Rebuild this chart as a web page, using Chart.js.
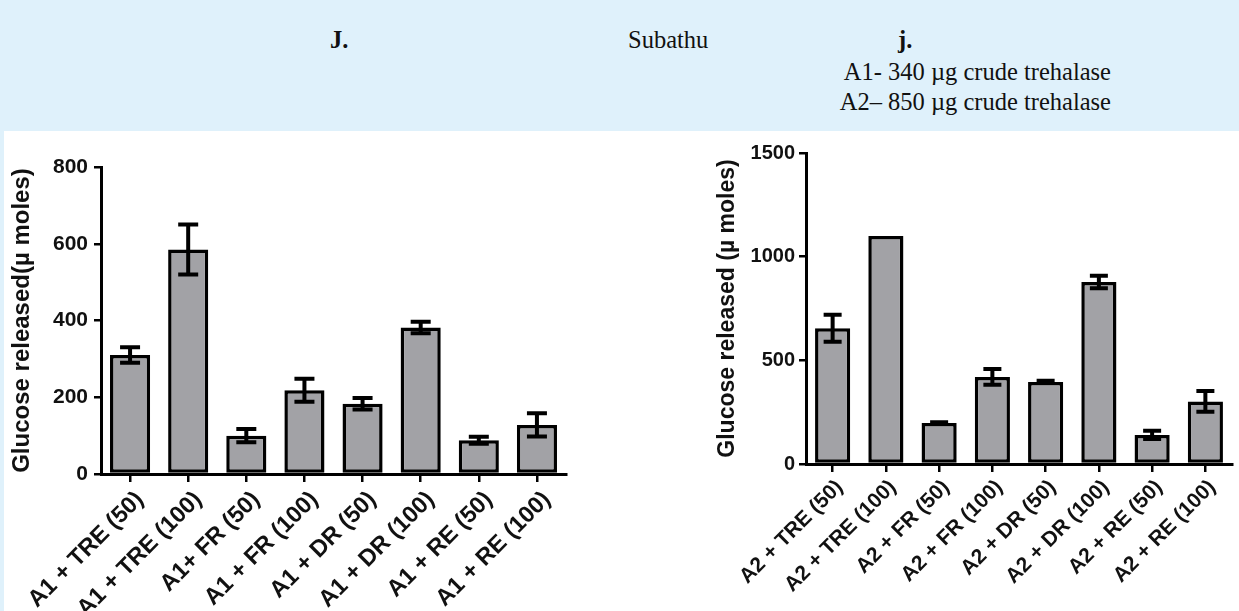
<!DOCTYPE html>
<html><head><meta charset="utf-8">
<script src="https://cdn.jsdelivr.net/npm/chart.js@4.4.1/dist/chart.umd.min.js"></script>
<style>
html,body{margin:0;padding:0;background:#fff;}
body{width:1239px;height:611px;position:relative;overflow:hidden;}
#hdr{position:absolute;left:0;top:0;width:1239px;height:131px;background:#dff1fb;}
#strip{position:absolute;left:0;top:131px;width:4px;height:480px;background:#dff1fb;}
.t{position:absolute;font-family:"Liberation Serif",serif;font-size:24.5px;color:#111;white-space:nowrap;line-height:1;}
.c{position:absolute;}
</style></head><body>
<div id="hdr">
 <div class="t" style="left:330px;top:28px;font-weight:bold">J.</div>
 <div class="t" style="left:628px;top:28px;">Subathu</div>
 <div class="t" style="left:898px;top:28px;font-weight:bold">j.</div>
 <div class="t" style="right:128px;top:60px;">A1- 340 µg crude trehalase</div>
 <div class="t" style="right:128px;top:90px;">A2– 850 µg crude trehalase</div>
</div>
<div id="strip"></div>
<div class="c" style="left:0;top:131px;"><canvas id="c1" width="620" height="480"></canvas></div>
<div class="c" style="left:620px;top:131px;"><canvas id="c2" width="619" height="480"></canvas></div>
<script>
const labelsA1 = ["A1 + TRE (50)","A1 + TRE (100)","A1+ FR (50)","A1 + FR (100)","A1 + DR (50)","A1 + DR (100)","A1 + RE (50)","A1 + RE (100)"];
const valuesA1 = [310,585,100,218,183,382,88,128];
const errorsA1 = [20,65,17,30,15,15,9,30];
const ticksA1 = [0,200,400,600,800];

const labelsA2 = ["A2 + TRE (50)","A2 + TRE (100)","A2 + FR (50)","A2 + FR (100)","A2 + DR (50)","A2 + DR (100)","A2 + RE (50)","A2 + RE (100)"];
const valuesA2 = [655,1100,198,420,396,878,140,302];
const errorsA2 = [65,0,3,38,5,30,20,50];
const ticksA2 = [0,500,1000,1500];

const errPlugin = {
  id:'err',
  afterDatasetsDraw(chart, args, opts){
    const ctx=chart.ctx, xs=chart.scales.x, ys=chart.scales.y;
    const ds=chart.data.datasets[0];
    ctx.save(); ctx.strokeStyle='#000'; ctx.lineWidth=opts.width; ctx.lineCap='butt';
    ds.data.forEach((v,i)=>{
      const e=opts.errors[i]; if(!e) return;
      const x=xs.getPixelForValue(i);
      const y1=ys.getPixelForValue(v+e), y2=ys.getPixelForValue(v-e);
      ctx.beginPath();
      ctx.moveTo(x,y1); ctx.lineTo(x,y2);
      ctx.moveTo(x-opts.cap,y1); ctx.lineTo(x+opts.cap,y1);
      ctx.moveTo(x-opts.cap,y2); ctx.lineTo(x+opts.cap,y2);
      ctx.stroke();
    });
    ctx.restore();
  }
};

const FONT = "'Liberation Sans', Arial, sans-serif";
function makeChart(id, labels, values, errors, ticks, max, cfg){
  const axisGrid = (len)=>({display:true, offset:false, drawOnChartArea:false, drawTicks:true, tickLength:len, color:'#000', lineWidth:2.5});
  return new Chart(document.getElementById(id), {
    type:'bar',
    data:{labels:labels, datasets:[{data:values, backgroundColor:'#a2a2a6', borderColor:'#000', borderWidth:3.5, borderSkipped:false, barPercentage:cfg.bar, categoryPercentage:1}]},
    options:{
      responsive:false, animation:false, devicePixelRatio:1,
      layout:{padding:{left:0, top:cfg.top, right:cfg.right, bottom:0}},
      plugins:{legend:{display:false}, tooltip:{enabled:false}, err:{errors:errors, cap:cfg.cap, width:4}},
      scales:{
        x:{
          offset:true,
          grid:axisGrid(8),
          border:{display:true, color:'#000', width:3},
          ticks:{autoSkip:false, minRotation:45, maxRotation:45, padding:cfg.xp, labelOffset:cfg.lo, color:'#111', font:{family:FONT, weight:'bold', size:cfg.xf}},
          afterFit:s=>{s.height=cfg.xh;}
        },
        y:{
          min:0, max:max,
          afterBuildTicks:s=>{s.ticks=ticks.map(v=>({value:v}));},
          grid:axisGrid(7),
          border:{display:true, color:'#000', width:3},
          ticks:{padding:cfg.tp, color:'#111', font:{family:FONT, weight:'bold', size:cfg.yf}, callback:v=>String(v)},
          title:{display:true, text:cfg.title, color:'#111', font:{family:FONT, weight:'bold', size:cfg.tf}, padding:{top:cfg.tpad, bottom:0}},
          afterFit:s=>{s.width=cfg.yw;}
        }
      }
    },
    plugins:[errPlugin]
  });
}

makeChart('c1', labelsA1, valuesA1, errorsA1, ticksA1, 800,
  {bar:0.69, top:36, right:54, xh:137, yw:101, tp:6, tpad:8, cap:10, xf:23.5, xp:4, lo:10, yf:21, tf:24, title:'Glucose released(µ moles)'});
makeChart('c2', labelsA2, valuesA2, errorsA2, ticksA2, 1500,
  {bar:0.66, top:22, right:7, xh:147, yw:186, tp:4, tpad:94, cap:9, xf:21, xp:3, lo:7, yf:20, tf:23, title:'Glucose released (µ moles)'});
</script>
</body></html>
